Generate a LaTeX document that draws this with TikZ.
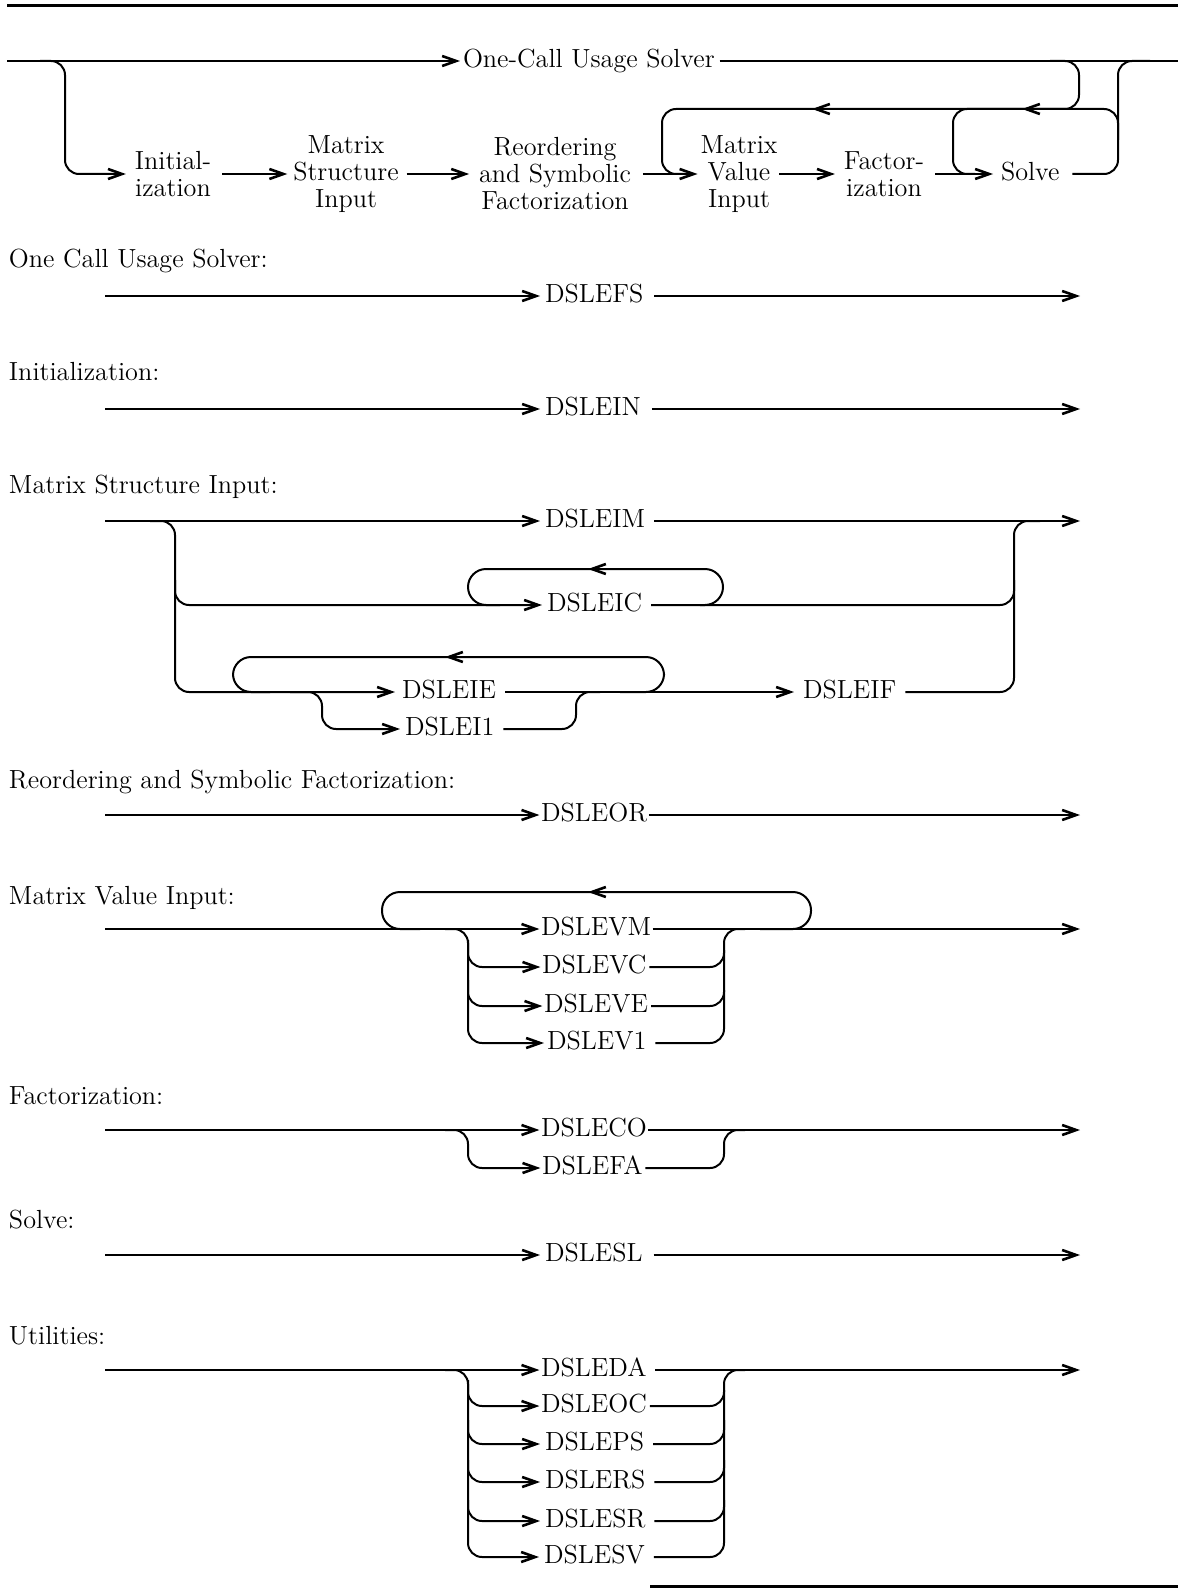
\documentclass[tikz,border=0pt]{standalone}
\usetikzlibrary{arrows.meta}
\newcommand{\dfont}{\fontsize{13.1}{13.5}\selectfont}
\begin{document}
\begin{tikzpicture}[x=0.5pt,y=-0.5pt, line width=1pt,
  every node/.style={font=\dfont, inner sep=0pt},
  dsle/.style={anchor=west, text height=6.6pt, text depth=0pt},
  hdg/.style={anchor=base west},
  blk/.style={align=center},
  rail/.style={rounded corners=7pt},
  stad/.style={rounded corners=9pt},
  arr/.style={-{Straight Barb[length=7pt,width=5pt,line width=1.3pt]}, shorten >=2pt},
  tarr/.style={-{Straight Barb[length=7pt,width=5pt,line width=1.3pt]}, shorten >=0.3pt},
  outl/.style={shorten <=4pt},
  toutl/.style={shorten <=0.3pt},
  back/.style={-{Straight Barb[length=7pt,width=5pt,line width=1.3pt]}}]
\useasboundingbox (0,0) rectangle (1178,1589);
% rules
\draw[line width=1.5pt] (7,6) -- (1178,6);
\draw[line width=1.5pt] (650,1586) -- (1178,1586);

% ===== top overview =====
\coordinate (m0) at (7,61);
\coordinate (m1) at (1178,61);
\node[dsle] (onec) at (462,61) {One-Call Usage Solver};
\draw[arr,shorten >=1pt] (m0) -- (onec);
\draw[shorten <=2pt] (onec) -- (m1);
\node[blk] (ini) at (173,174) {Initial-\\ization};
\node[blk] (msi) at (346,174) {Matrix\\Structure\\Input};
\node[blk] (rsf) at (555,174) {Reordering\\and Symbolic\\Factorization};
\node[blk] (mvi) at (739,174) {Matrix\\Value\\Input};
\node[blk] (fz) at (884,174) {Factor-\\ization};
\node[dsle] (sv) at (1000,174) {Solve};
\draw[rail,arr,shorten >=4pt] (40,61) -- (65,61) -- (65,174) -- (ini);
\draw[arr,shorten <=5pt,shorten >=2.5pt] (ini) -- (msi);
\draw[arr,shorten <=3.5pt,shorten >=4.5pt] (msi) -- (rsf);
\draw[arr,shorten <=5.5pt,shorten >=1pt] (rsf) -- (mvi);
\draw[arr,shorten <=0.5pt,shorten >=4pt] (mvi) -- (fz);
\draw[arr,shorten <=5pt,shorten >=3.5pt] (fz) -- (sv);
\draw[rail,shorten <=6pt] (sv) -- (1118,174) -- (1118,61) -- (1150,61);
\draw[rail] (1050,61) -- (1079,61) -- (1079,109) -- (662,109) -- (662,174) -- (690,174);
\draw[rail] (1118,140) -- (1118,109) -- (953,109) -- (953,174) -- (975,174);
\draw[back] (834,109) -- (812,109);
\draw[back] (1044,109) -- (1022,109);

% ===== One Call Usage Solver =====
\node[hdg] (h1) at (8,267) {One Call Usage Solver:};
\coordinate (a1) at (105,296); \coordinate (b1) at (1080,296);
\node[dsle] (fs) at (544,296) {DSLEFS};
\draw[arr] (a1) -- (fs);
\draw[arr,shorten <=5pt,shorten >=0pt] (fs) -- (b1);

% ===== Initialization =====
\node[hdg] (h2) at (8,380) {Initialization:};
\coordinate (a2) at (105,409); \coordinate (b2) at (1080,409);
\node[dsle] (in) at (544,409) {DSLEIN};
\draw[arr] (a2) -- (in);
\draw[arr,shorten <=5pt,shorten >=0pt] (in) -- (b2);

% ===== Matrix Structure Input =====
\node[hdg] (h3) at (8,493) {Matrix Structure Input:};
\coordinate (a3) at (105,521); \coordinate (b3) at (1080,521);
\node[dsle] (im) at (544,521) {DSLEIM};
\node[dsle] (ic) at (546,605) {DSLEIC};
\node[dsle] (ie) at (401,692) {DSLEIE};
\node[dsle] (i1) at (404,729) {DSLEI1};
\node[dsle] (if) at (802,692) {DSLEIF};
\draw[arr] (a3) -- (im);
\draw[arr,shorten <=4pt,shorten >=0pt] (im) -- (b3);
\draw[rail,arr,shorten >=3pt] (150,521) -- (175,521) -- (175,692) -- (ie);
\draw[rail,arr] (175,580) -- (175,605) -- (ic);
\draw[stad] (700,605) -- (723,605) -- (723,569) -- (468,569) -- (468,605) -- (500,605);
\draw[back] (610,569) -- (588,569);
\draw[rail,outl] (ic) -- (1014,605) -- (1014,580);
\draw[rail,outl] (if) -- (1014,692) -- (1014,521) -- (1040,521);
\draw[stad] (620,692) -- (664,692) -- (664,657) -- (233,657) -- (233,692) -- (270,692);
\draw[back] (467,657) -- (445,657);
\draw[rail,arr] (290,692) -- (322,692) -- (322,729) -- (i1);
\draw[rail,outl] (i1) -- (576,729) -- (576,692) -- (600,692);
\draw[arr,outl,shorten >=4pt] (ie) -- (if);

% ===== Reordering =====
\node[hdg] (h4) at (8,788) {Reordering and Symbolic Factorization:};
\coordinate (a4) at (105,815); \coordinate (b4) at (1080,815);
\node[dsle] (or) at (540,815) {DSLEOR};
\draw[tarr] (a4) -- (or);
\draw[arr,toutl,shorten >=0pt] (or) -- (b4);

% ===== Matrix Value Input =====
\node[hdg] (h5) at (8,904) {Matrix Value Input:};
\coordinate (a5) at (105,929); \coordinate (b5) at (1080,929);
\node[dsle] (vm) at (540,929) {DSLEVM};
\node[dsle] (vc) at (541,967) {DSLEVC};
\node[dsle] (ve) at (543,1006) {DSLEVE};
\node[dsle] (v1) at (546,1043) {DSLEV1};
\draw[tarr] (a5) -- (vm);
\draw[arr,toutl,shorten >=0pt] (vm) -- (b5);
\draw[stad] (760,929) -- (811,929) -- (811,892) -- (382,892) -- (382,929) -- (420,929);
\draw[back] (610,892) -- (588,892);
\draw[rail,arr,shorten >=1pt] (445,929) -- (468,929) -- (468,1043) -- (v1);
\draw[rail,tarr] (468,940) -- (468,967) -- (vc);
\draw[rail,tarr] (468,980) -- (468,1006) -- (ve);
\draw[rail,outl] (v1) -- (724,1043) -- (724,929) -- (745,929);
\draw[rail,shorten <=1pt] (vc) -- (724,967) -- (724,950);
\draw[rail,shorten <=1pt] (ve) -- (724,1006) -- (724,990);

% ===== Factorization =====
\node[hdg] (h6) at (8,1104) {Factorization:};
\coordinate (a6) at (105,1130); \coordinate (b6) at (1080,1130);
\node[dsle] (co) at (540,1130) {DSLECO};
\node[dsle] (fa) at (541,1168) {DSLEFA};
\draw[tarr] (a6) -- (co);
\draw[arr,toutl,shorten >=0pt] (co) -- (b6);
\draw[rail,tarr] (445,1130) -- (468,1130) -- (468,1168) -- (fa);
\draw[rail,shorten <=1pt] (fa) -- (724,1168) -- (724,1130) -- (745,1130);

% ===== Solve =====
\node[hdg] (h7) at (8,1228) {Solve:};
\coordinate (a7) at (105,1255); \coordinate (b7) at (1080,1255);
\node[dsle] (sl) at (544,1255) {DSLESL};
\draw[arr] (a7) -- (sl);
\draw[arr,shorten <=5pt,shorten >=0pt] (sl) -- (b7);

% ===== Utilities =====
\node[hdg] (h8) at (8,1344) {Utilities:};
\coordinate (a8) at (105,1370); \coordinate (b8) at (1080,1370);
\node[dsle] (da) at (540,1370) {DSLEDA};
\node[dsle] (uoc) at (540,1406) {DSLEOC};
\node[dsle] (ps) at (544,1444) {DSLEPS};
\node[dsle] (rs) at (544,1482) {DSLERS};
\node[dsle] (sr) at (544,1521) {DSLESR};
\node[dsle] (usv) at (543,1557) {DSLESV};
\draw[tarr] (a8) -- (da);
\draw[arr,outl,shorten >=0pt] (da) -- (b8);
\draw[rail,arr] (445,1370) -- (468,1370) -- (468,1557) -- (usv);
\draw[rail,tarr] (468,1380) -- (468,1406) -- (uoc);
\draw[rail,arr] (468,1420) -- (468,1444) -- (ps);
\draw[rail,arr] (468,1460) -- (468,1482) -- (rs);
\draw[rail,arr] (468,1500) -- (468,1521) -- (sr);
\draw[rail,outl] (usv) -- (724,1557) -- (724,1370) -- (745,1370);
\draw[rail,shorten <=1pt] (uoc) -- (724,1406) -- (724,1390);
\draw[rail,outl] (ps) -- (724,1444) -- (724,1420);
\draw[rail,outl] (rs) -- (724,1482) -- (724,1460);
\draw[rail,outl] (sr) -- (724,1521) -- (724,1500);
\end{tikzpicture}
\end{document}
